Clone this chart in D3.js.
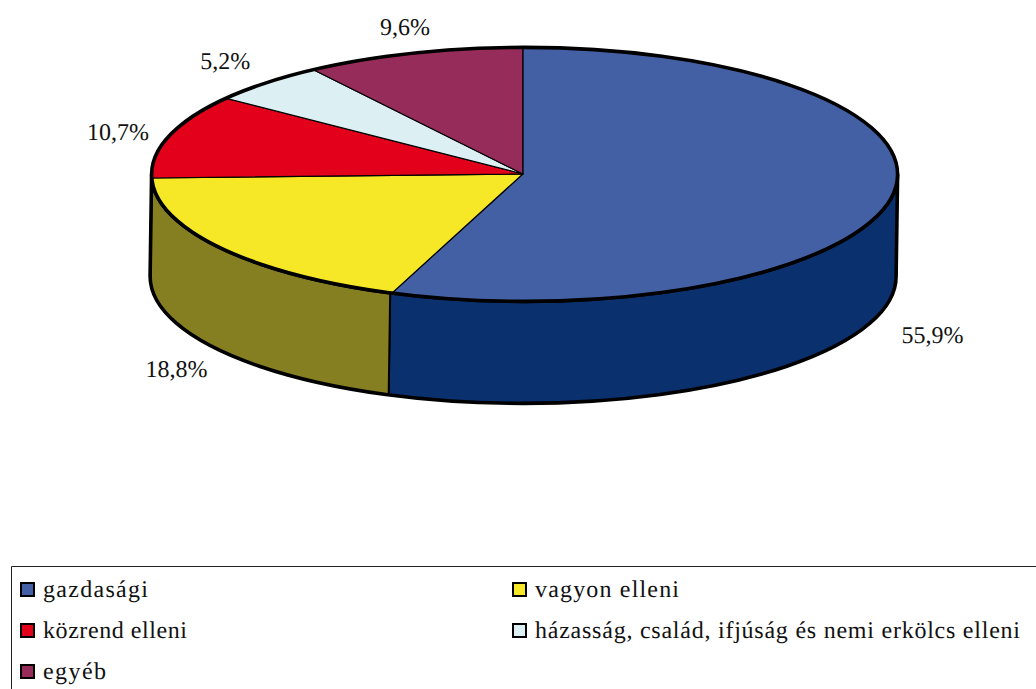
<!DOCTYPE html>
<html lang="hu">
<head>
<meta charset="UTF-8">
<title>Pie chart</title>
<script src="https://d3js.org/d3.v7.min.js"></script>
<style>
    html, body { margin: 0; padding: 0; background: #fff; overflow: hidden; }
    svg { display: block; }
    text { font-family: "Liberation Serif", serif; fill: #111; text-rendering: geometricPrecision; }
</style>
</head>
<body>
<svg id="chart" width="1036" height="689"></svg>
<script>
// values
const categories = ["gazdasági", "vagyon elleni", "közrend elleni", "házasság, család, ifjúság és nemi erkölcs elleni", "egyéb"];
const shares = [55.9, 18.8, 10.7, 5.2, 9.6];
const topColors = ["#4460a5", "#f6e827", "#e2001a", "#dceff3", "#962c5a"];
const wallColors = ["#0a306e", "#867f22", "#71000d", "#6e7879", "#4b162d"];
// label nudges from the rim point of each slice
const labelNudge = [[41, 137], [-44, 121], [-51, -4], [-41, -22], [-9, -27]];
const legendWidths = [105, 144, 144, 485, 63];

const cx = 524.6, cy = 174.4, rx = 373, ry = 127, depth = 102;
const hubX = 522.8, hubY = 174;   // slices meet slightly left of the ellipse centre
const bottomShift = -1.5;         // the lower rim sits a bit to the left
const wallNudge = 0.005;          // wall divider stands a little left of the top spoke

const svg = d3.select("#chart");
const color = d3.scaleOrdinal(categories, topColors);
const wallColor = d3.scaleOrdinal(categories, wallColors);
const fmt = v => d3.format(".1f")(v).replace(".", ",") + "%";

const slices = d3.pie().sort(null).value((d, i) => shares[i])(categories);

const rim = a => [cx + rx * Math.sin(a), cy - ry * Math.cos(a)];
const lowRim = a => [cx + bottomShift + rx * Math.sin(a), cy + depth - ry * Math.cos(a)];

// side walls, only the front half of the rim can be seen
const frontStart = Math.PI / 2, frontEnd = Math.PI * 3 / 2;
function wallPath(a0, a1) {
    return `M${rim(a0)}A${rx},${ry} 0 0 1 ${rim(a1)}L${lowRim(a1)}A${rx},${ry} 0 0 0 ${lowRim(a0)}Z`;
}

const walls = svg.append("g");
walls.selectAll("path")
    .data(slices.filter(d => d.startAngle < frontEnd && d.endAngle > frontStart))
    .join("path")
    .attr("d", d => wallPath(Math.max(d.startAngle + wallNudge, frontStart), Math.min(d.endAngle + wallNudge, frontEnd)))
    .attr("fill", d => wallColor(d.data))
    .attr("stroke", "#000")
    .attr("stroke-width", 2);

svg.append("path")
    .attr("d", wallPath(frontStart, frontEnd))
    .attr("fill", "none")
    .attr("stroke", "#000")
    .attr("stroke-width", 3.6)
    .attr("stroke-linejoin", "round");

// top face, the 12 o'clock spoke runs straight up from the hub
function spokeEnd(a) {
    const p = rim(a);
    return Math.abs(Math.sin(a)) < 1e-6 ? [hubX, p[1]] : p;
}
function slicePath(d) {
    const large = d.endAngle - d.startAngle > Math.PI ? 1 : 0;
    return `M${hubX},${hubY}L${spokeEnd(d.startAngle)}A${rx},${ry} 0 ${large} 1 ${spokeEnd(d.endAngle)}Z`;
}

svg.append("g").selectAll("path")
    .data(slices)
    .join("path")
    .attr("d", slicePath)
    .attr("fill", d => color(d.data))
    .attr("stroke", "#000")
    .attr("stroke-width", 1.2);

svg.append("ellipse")
    .attr("cx", cx)
    .attr("cy", cy)
    .attr("rx", rx)
    .attr("ry", ry)
    .attr("fill", "none")
    .attr("stroke", "#000")
    .attr("stroke-width", 3.6);

// percent labels
svg.append("g").selectAll("text")
    .data(slices)
    .join("text")
    .attr("x", (d, i) => rim((d.startAngle + d.endAngle) / 2)[0] + labelNudge[i][0])
    .attr("y", (d, i) => rim((d.startAngle + d.endAngle) / 2)[1] + labelNudge[i][1])
    .attr("dy", "0.35em")
    .attr("text-anchor", "middle")
    .attr("font-size", 24)
    .text((d, i) => fmt(shares[i]));

// legend
const legend = svg.append("g");
legend.append("path").attr("d", "M11.5,689V566.5H1036").attr("fill", "none").attr("stroke", "#222").attr("stroke-width", 1);

const colX = d3.scalePoint().domain([0, 1]).range([21, 513]);
const rowY = d3.scalePoint().domain([0, 1, 2]).range([583, 665]);

const item = legend.selectAll("g")
    .data(categories)
    .join("g")
    .attr("transform", (d, i) => `translate(${colX(i % 2)},${rowY(Math.floor(i / 2))})`);

item.append("rect")
    .attr("width", 13)
    .attr("height", 13)
    .attr("fill", d => color(d))
    .attr("stroke", "#000")
    .attr("stroke-width", 2);

item.append("text")
    .attr("x", 22)
    .attr("y", 14)
    .attr("font-size", 24)
    .attr("textLength", (d, i) => legendWidths[i])
    .attr("lengthAdjust", "spacing")
    .text(d => d);
</script>
</body>
</html>
